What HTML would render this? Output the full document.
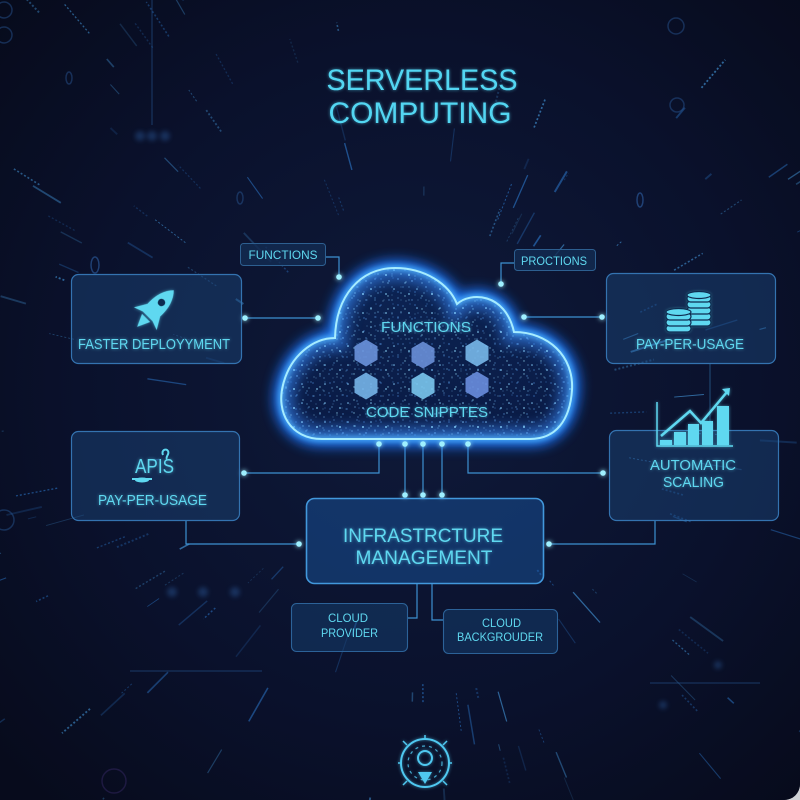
<!DOCTYPE html>
<html><head><meta charset="utf-8">
<style>
html,body{margin:0;padding:0;background:#cfd2d6;}
#wrap{width:800px;height:800px;position:relative;overflow:hidden;border-bottom-right-radius:16px;background:#0a1026;}
svg{display:block;}
text{font-family:"Liberation Sans",sans-serif;}
</style></head>
<body>
<div id="wrap">
<svg width="800" height="800" viewBox="0 0 800 800">
<defs>
  <radialGradient id="bg" cx="52%" cy="48%" r="70%">
    <stop offset="0" stop-color="#0f1a3a"/>
    <stop offset="0.6" stop-color="#0a112c"/>
    <stop offset="1" stop-color="#070b1c"/>
  </radialGradient>
  <linearGradient id="cloudFill" x1="0" y1="0" x2="0" y2="1">
    <stop offset="0" stop-color="#0c2454"/>
    <stop offset="1" stop-color="#0a1a44"/>
  </linearGradient>
  <pattern id="dots1" width="23" height="19" patternUnits="userSpaceOnUse">
    <circle cx="3" cy="4" r="0.8" fill="#86d0ff" opacity="0.9"/>
    <circle cx="12" cy="2" r="0.6" fill="#6fb8ff" opacity="0.7"/>
    <circle cx="18" cy="9" r="0.9" fill="#8fd8ff" opacity="0.8"/>
    <circle cx="7" cy="13" r="0.6" fill="#6fb8ff" opacity="0.7"/>
    <circle cx="15" cy="16" r="0.5" fill="#9fe0ff" opacity="0.8"/>
    <circle cx="21" cy="15" r="0.7" fill="#6fb8ff" opacity="0.6"/>
    <circle cx="1" cy="10" r="0.5" fill="#86d0ff" opacity="0.6"/>
    <circle cx="10" cy="8" r="0.6" fill="#86d0ff" opacity="0.8"/>
  </pattern>
  <pattern id="dots2" width="17" height="13" patternUnits="userSpaceOnUse" x="5" y="3">
    <circle cx="2" cy="3" r="0.6" fill="#5aa8ff" opacity="0.8"/>
    <circle cx="9" cy="7" r="0.7" fill="#9be6ff" opacity="0.7"/>
    <circle cx="14" cy="2" r="0.5" fill="#5aa8ff" opacity="0.7"/>
    <circle cx="5" cy="11" r="0.5" fill="#7cc8ff" opacity="0.6"/>
    <circle cx="13" cy="11" r="0.6" fill="#7cc8ff" opacity="0.7"/>
  </pattern>
  <filter id="blur6" x="-20%" y="-20%" width="140%" height="140%"><feGaussianBlur stdDeviation="6"/></filter>
  <filter id="blur3" x="-20%" y="-20%" width="140%" height="140%"><feGaussianBlur stdDeviation="3"/></filter>
  <filter id="blurDot" x="-100%" y="-100%" width="300%" height="300%"><feGaussianBlur stdDeviation="2.5"/></filter>
  <filter id="glow" x="-30%" y="-30%" width="160%" height="160%">
    <feGaussianBlur stdDeviation="1.5" result="b"/>
    <feComponentTransfer in="b" result="b2"><feFuncA type="linear" slope="0.6"/></feComponentTransfer>
    <feMerge><feMergeNode in="b2"/><feMergeNode in="SourceGraphic"/></feMerge>
  </filter>
  <filter id="glowBig" x="-50%" y="-50%" width="200%" height="200%">
    <feGaussianBlur stdDeviation="2.5" result="b"/>
    <feMerge><feMergeNode in="b"/><feMergeNode in="SourceGraphic"/></feMerge>
  </filter>
  <clipPath id="cloudClip"><path id="cp" d="M322 439 C290 439 276 412 283 385 C290 356 313 338 335 338 C336 296 360 268 395 268 C425 268 449 284 457 304 C470 292 505 292 514 332 C548 332 574 356 572 390 C570 420 556 439 530 439 Z"/></clipPath>
</defs>

<rect width="800" height="800" fill="url(#bg)"/>
<g id="streaks"></g>

<!-- faint rings -->
<g fill="none" stroke="#2a5a9a" stroke-width="1.5" opacity="0.45">
  <circle cx="4" cy="10" r="8"/>
  <circle cx="4" cy="35" r="8"/>
  <ellipse cx="95" cy="265" rx="4" ry="8" stroke="#3a7acc"/>
  <ellipse cx="69" cy="78" rx="3" ry="6"/>
  <circle cx="114" cy="781" r="12" stroke="#3a2a6a"/>
  <circle cx="676" cy="26" r="8"/>
  <circle cx="677" cy="105" r="7"/>
  <ellipse cx="640" cy="200" rx="3" ry="7" stroke="#3a7acc"/>
  <ellipse cx="240" cy="198" rx="3" ry="6"/>
  <circle cx="4" cy="520" r="10"/>
</g>
<g fill="#3a7acc" opacity="0.3" filter="url(#blurDot)">
  <circle cx="140" cy="136" r="5"/><circle cx="152" cy="136" r="5"/><circle cx="165" cy="136" r="5"/>
  <circle cx="172" cy="592" r="5"/><circle cx="203" cy="592" r="5"/><circle cx="235" cy="592" r="5"/>
  <circle cx="718" cy="665" r="4"/><circle cx="663" cy="705" r="4"/>
</g>
<g stroke="#2f6fb8" stroke-width="1" opacity="0.45">
  <line x1="152" y1="0" x2="152" y2="125"/>
  <line x1="130" y1="671" x2="262" y2="671"/>
  <line x1="650" y1="683" x2="760" y2="683"/>
</g>

<!-- Title -->
<g filter="url(#glow)" fill="#52d6f2">
  <text x="422" y="90" font-size="30" text-anchor="middle" textLength="191" lengthAdjust="spacingAndGlyphs">SERVERLESS</text>
  <text x="420" y="123" font-size="30" text-anchor="middle" textLength="183" lengthAdjust="spacingAndGlyphs">COMPUTING</text>
</g>

<!-- Connectors -->
<g stroke="#3d90d0" stroke-width="1.2" fill="none">
  <polyline points="325,257 339,257 339,277"/>
  <polyline points="515,263 501,263 501,284"/>
  <line x1="245" y1="318" x2="318" y2="318"/>
  <line x1="524" y1="317" x2="602" y2="317"/>
  <polyline points="244,473 379,473 379,444"/>
  <polyline points="468,444 468,473 603,473"/>
  <line x1="405" y1="444" x2="405" y2="497"/>
  <line x1="423" y1="444" x2="423" y2="497"/>
  <line x1="442" y1="444" x2="442" y2="497"/>
  <polyline points="186,520 186,544 299,544"/>
  <polyline points="549,544 655,544 655,520"/>
  <polyline points="417,583 417,618 407,618"/>
  <polyline points="432,583 432,620 443,620"/>
  <line x1="710" y1="363" x2="710" y2="430" opacity="0.4"/>
</g>

<!-- Cloud -->
<g>
  <use href="#cp" fill="none" stroke="#1f78ff" stroke-width="16" filter="url(#blur6)" opacity="0.9"/>
  <use href="#cp" fill="url(#cloudFill)"/>
  <g clip-path="url(#cloudClip)">
    <rect x="270" y="260" width="310" height="190" fill="url(#dots1)"/>
    <rect x="270" y="260" width="310" height="190" fill="url(#dots2)"/>
    <use href="#cp" fill="none" stroke="#3a8cff" stroke-width="26" filter="url(#blur6)" opacity="0.55"/>
    <use href="#cp" fill="none" stroke="url(#dots1)" stroke-width="30"/>
  </g>
  <use href="#cp" fill="none" stroke="#4fb4ff" stroke-width="5" filter="url(#blur3)"/>
  <use href="#cp" fill="none" stroke="#a6ecff" stroke-width="2"/>
</g>

<!-- Hexagons -->
<g opacity="0.9">
  <polygon transform="translate(366,353)" points="0,-13.5 11.5,-6.75 11.5,6.75 0,13.5 -11.5,6.75 -11.5,-6.75" fill="#6b93dc"/>
  <polygon transform="translate(423,355)" points="0,-13.5 11.5,-6.75 11.5,6.75 0,13.5 -11.5,6.75 -11.5,-6.75" fill="#6a8fd8"/>
  <polygon transform="translate(477,353)" points="0,-13.5 11.5,-6.75 11.5,6.75 0,13.5 -11.5,6.75 -11.5,-6.75" fill="#78b8ea"/>
  <polygon transform="translate(366,386)" points="0,-13.5 11.5,-6.75 11.5,6.75 0,13.5 -11.5,6.75 -11.5,-6.75" fill="#76b4e8"/>
  <polygon transform="translate(423,386)" points="0,-13.5 11.5,-6.75 11.5,6.75 0,13.5 -11.5,6.75 -11.5,-6.75" fill="#7ac6ee"/>
  <polygon transform="translate(477,385)" points="0,-13.5 11.5,-6.75 11.5,6.75 0,13.5 -11.5,6.75 -11.5,-6.75" fill="#6a8ede"/>
</g>
<g fill="#5fd8f0" filter="url(#glow)">
  <text x="426" y="332" font-size="15" text-anchor="middle" textLength="90" lengthAdjust="spacingAndGlyphs">FUNCTIONS</text>
  <text x="427" y="417" font-size="15" text-anchor="middle" textLength="122" lengthAdjust="spacingAndGlyphs">CODE SNIPPTES</text>
</g>

<!-- dots on connectors -->
<g fill="#9ff0ff" filter="url(#glowBig)">
  <circle cx="339" cy="277" r="2.8"/>
  <circle cx="501" cy="284" r="2.8"/>
  <circle cx="245" cy="318" r="2.8"/><circle cx="318" cy="318" r="2.8"/>
  <circle cx="524" cy="317" r="2.8"/><circle cx="602" cy="317" r="2.8"/>
  <circle cx="244" cy="473" r="2.8"/><circle cx="603" cy="473" r="2.8"/>
  <circle cx="379" cy="444" r="2.8"/><circle cx="405" cy="444" r="2.8"/><circle cx="423" cy="444" r="2.8"/><circle cx="442" cy="444" r="2.8"/><circle cx="468" cy="444" r="2.8"/>
  <circle cx="405" cy="495" r="2.8"/><circle cx="423" cy="495" r="2.8"/><circle cx="442" cy="495" r="2.8"/>
  <circle cx="299" cy="544" r="2.8"/><circle cx="549" cy="544" r="2.8"/>
</g>

<!-- small labels -->
<rect x="240.5" y="243.5" width="85" height="22" rx="3" fill="#132c52" fill-opacity="0.8" stroke="#2d5f90" stroke-width="1"/>
<rect x="514.5" y="249.5" width="81" height="21" rx="3" fill="#132c52" fill-opacity="0.8" stroke="#2d5f90" stroke-width="1"/>
<g fill="#5fd8f0">
  <text x="283" y="259" font-size="12" text-anchor="middle" textLength="69" lengthAdjust="spacingAndGlyphs">FUNCTIONS</text>
  <text x="554" y="265" font-size="12" text-anchor="middle" textLength="66" lengthAdjust="spacingAndGlyphs">PROCTIONS</text>
</g>

<!-- Feature boxes -->
<g fill="#1c4a7e" fill-opacity="0.45" stroke="#3473b0" stroke-width="1.2">
  <rect x="71.5" y="274.5" width="170" height="89" rx="7"/>
  <rect x="71.5" y="431.5" width="168" height="89" rx="7"/>
  <rect x="606.5" y="273.5" width="169" height="90" rx="7"/>
  <rect x="609.5" y="430.5" width="169" height="90" rx="7"/>
</g>

<!-- Infrastructure -->
<rect x="306.5" y="498.5" width="237" height="85" rx="8" fill="#1a5aa8" fill-opacity="0.45" stroke="#4298dc" stroke-width="1.6"/>
<g fill="#5fd8f0" filter="url(#glow)">
  <text x="423" y="542" font-size="19" text-anchor="middle" textLength="160" lengthAdjust="spacingAndGlyphs">INFRASTRCTURE</text>
  <text x="424" y="564" font-size="19" text-anchor="middle" textLength="137" lengthAdjust="spacingAndGlyphs">MANAGEMENT</text>
</g>

<!-- Cloud provider / backgrounder -->
<g fill="#163c6c" fill-opacity="0.55" stroke="#2c6298" stroke-width="1.1">
  <rect x="291.5" y="603.5" width="116" height="48" rx="5"/>
  <rect x="443.5" y="609.5" width="114" height="44" rx="5"/>
</g>
<g fill="#5fd8f0">
  <text x="348" y="622" font-size="12" text-anchor="middle" textLength="40" lengthAdjust="spacingAndGlyphs">CLOUD</text>
  <text x="349.5" y="637" font-size="12" text-anchor="middle" textLength="57" lengthAdjust="spacingAndGlyphs">PROVIDER</text>
  <text x="501.5" y="627" font-size="12" text-anchor="middle" textLength="39" lengthAdjust="spacingAndGlyphs">CLOUD</text>
  <text x="500" y="641" font-size="12" text-anchor="middle" textLength="86" lengthAdjust="spacingAndGlyphs">BACKGROUDER</text>
</g>

<!-- Box texts -->
<g fill="#5fd8f0" filter="url(#glow)">
  <text x="154" y="349" font-size="15" text-anchor="middle" textLength="152" lengthAdjust="spacingAndGlyphs">FASTER DEPLOYYMENT</text>
  <text x="154.5" y="473" font-size="20" text-anchor="middle" textLength="39" lengthAdjust="spacingAndGlyphs">APIS</text>
  <text x="152.5" y="505" font-size="15" text-anchor="middle" textLength="109" lengthAdjust="spacingAndGlyphs">PAY-PER-USAGE</text>
  <text x="690" y="349" font-size="15" text-anchor="middle" textLength="108" lengthAdjust="spacingAndGlyphs">PAY-PER-USAGE</text>
  <text x="693" y="470" font-size="15" text-anchor="middle" textLength="86" lengthAdjust="spacingAndGlyphs">AUTOMATIC</text>
  <text x="693.5" y="487" font-size="15" text-anchor="middle" textLength="61" lengthAdjust="spacingAndGlyphs">SCALING</text>
</g>

<!-- APIS decoration -->
<g stroke="#5fd8f0" stroke-width="2" fill="none">
  <path d="M163,455 C161,450 166,448 168,451 C170,454 165,457 167,459"/>
  <path d="M132,479 L152,479"/>
</g>
<ellipse cx="142" cy="480" rx="7" ry="2.5" fill="#5fd8f0"/>

<!-- Rocket -->
<g transform="translate(155,309) rotate(45) scale(1.15)" filter="url(#glow)">
  <path d="M0,-23 C8,-15 9,-3 7,9 L-7,9 C-9,-3 -8,-15 0,-23 Z" fill="#5fd8f0"/>
  <circle cx="0" cy="-8" r="4" fill="#0f2a50" stroke="#5fd8f0" stroke-width="1.5"/>
  <path d="M-7,0 L-14,12 L-6,9 Z" fill="#5fd8f0"/>
  <path d="M7,0 L14,12 L6,9 Z" fill="#5fd8f0"/>
  <path d="M-5,11 L0,22 L5,11 Z" fill="#5fd8f0"/>
</g>

<!-- Coins -->
<g filter="url(#glow)">
  <g fill="#5fd8f0" stroke="#0f2a50" stroke-width="1.2">
    <rect x="687" y="319" width="24" height="7" rx="3.5"/>
    <rect x="687" y="313" width="24" height="7" rx="3.5"/>
    <rect x="687" y="307" width="24" height="7" rx="3.5"/>
    <rect x="687" y="301" width="24" height="7" rx="3.5"/>
    <rect x="687" y="295" width="24" height="7" rx="3.5"/>
    <ellipse cx="699" cy="295" rx="12" ry="3.5"/>
  </g>
  <g fill="#5fd8f0" stroke="#0f2a50" stroke-width="1.2">
    <rect x="666" y="325" width="25" height="7" rx="3.5"/>
    <rect x="666" y="319" width="25" height="7" rx="3.5"/>
    <rect x="666" y="313" width="25" height="7" rx="3.5"/>
    <ellipse cx="678.5" cy="312" rx="12.5" ry="3.5"/>
  </g>
</g>

<!-- Chart -->
<g filter="url(#glow)">
  <path d="M657,402 L657,446 L733,446" stroke="#5fd8f0" stroke-width="1.5" fill="none"/>
  <g fill="#5fd8f0">
    <rect x="660" y="440" width="12" height="5"/>
    <rect x="674" y="432" width="12" height="13"/>
    <rect x="688" y="424" width="11" height="21"/>
    <rect x="702" y="421" width="11" height="24"/>
    <rect x="717" y="406" width="12" height="39"/>
  </g>
  <polyline points="661,436 690,411 701,423 727,392" stroke="#5fd8f0" stroke-width="2.5" fill="none"/>
  <path d="M722,389 L730,388 L729,396 Z" fill="#5fd8f0"/>
</g>

<!-- Bottom icon -->
<g stroke="#4fc8f0" fill="none" filter="url(#glow)">
  <circle cx="425" cy="763" r="24" stroke-width="2"/>
  <circle cx="425" cy="763" r="17" stroke-width="1.2" stroke-dasharray="3 4" opacity="0.8"/>
  <circle cx="425" cy="758" r="7" stroke-width="2"/>
  <g stroke-width="1.5">
    <line x1="425" y1="735" x2="425" y2="740"/>
    <line x1="447" y1="741" x2="443" y2="745"/>
    <line x1="403" y1="741" x2="407" y2="745"/>
    <line x1="452" y1="763" x2="448" y2="763"/>
    <line x1="398" y1="763" x2="402" y2="763"/>
    <line x1="447" y1="785" x2="443" y2="781"/>
    <line x1="403" y1="785" x2="407" y2="781"/>
  </g>
  <path d="M418,772 L432,772 L425,784 Z" fill="#4fc8f0" stroke="none"/>
</g>
</svg>
</div>
<script>
(function(){
  var s=987654;
  function r(){s=(s*16807)%2147483647;return s/2147483647;}
  var cx=420,cy=420,out='';
  for(var i=0;i<240;i++){
    var a=r()*Math.PI*2;
    var r1=190+r()*460;
    var L=6+r()*36;
    var x1=cx+Math.cos(a)*r1,y1=cy+Math.sin(a)*r1;
    var x2=cx+Math.cos(a)*(r1+L),y2=cy+Math.sin(a)*(r1+L);
    if((x1<0&&x2<0)||(x1>800&&x2>800)||(y1<0&&y2<0)||(y1>800&&y2>800))continue;
    var op=(0.15+r()*0.45).toFixed(2);
    var w=(0.8+r()*1.2).toFixed(1);
    var col=r()<0.5?'#2f7fd6':'#4aa6ee';
    var dash=r()<0.45?' stroke-dasharray="2 2"':'';
    out+='<line x1="'+x1.toFixed(1)+'" y1="'+y1.toFixed(1)+'" x2="'+x2.toFixed(1)+'" y2="'+y2.toFixed(1)+'" stroke="'+col+'" stroke-width="'+w+'" opacity="'+op+'"'+dash+'/>';
  }
  document.getElementById('streaks').innerHTML=out;
})();
</script>
</body></html>
